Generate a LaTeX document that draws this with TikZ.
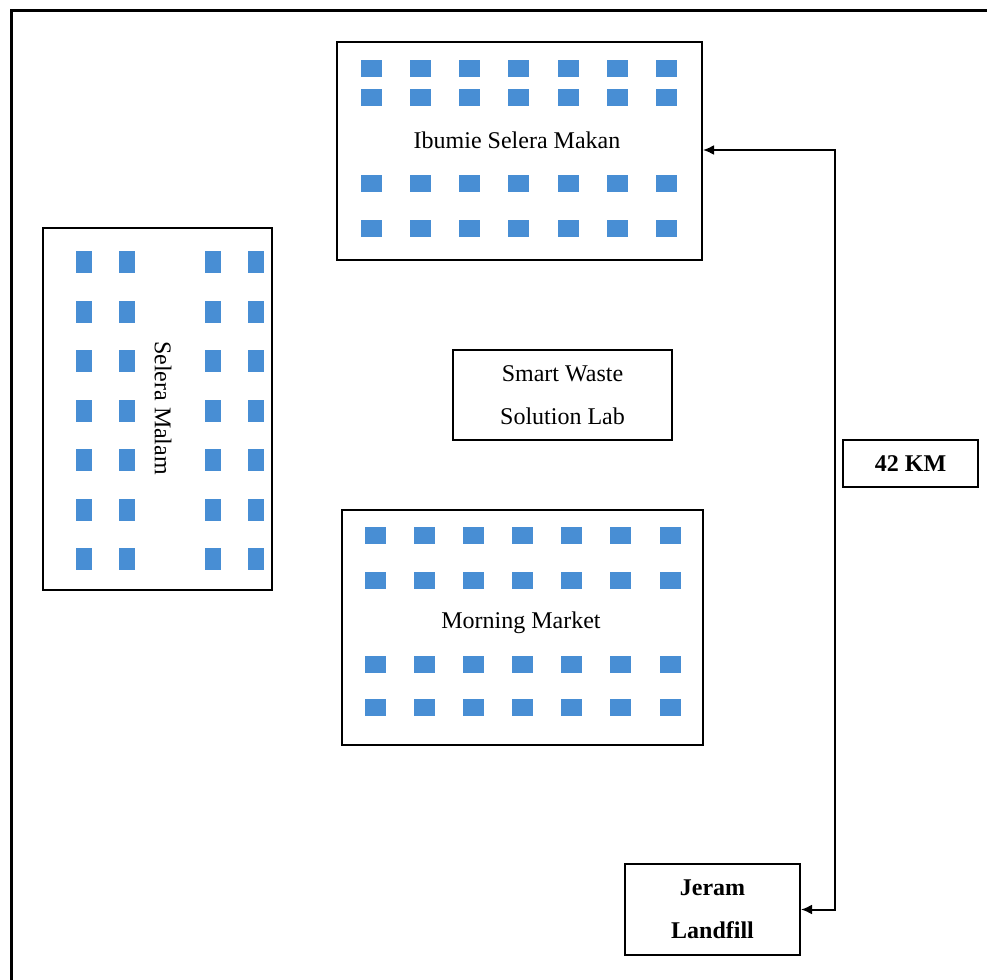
\documentclass[tikz,border=0pt]{standalone}
\usepackage{fontspec}
\setmainfont{Liberation Serif}
\usetikzlibrary{arrows.meta}
\definecolor{seat}{RGB}{72,142,212}
\tikzset{
  box/.style={draw=black, line width=1pt, fill=white, inner sep=0pt, align=center,
    font=\fontsize{12}{21.5}\selectfont},
  lbl/.style={inner sep=1pt, font=\fontsize{12}{14}\selectfont},
  boldlbl/.style={box, font=\fontsize{12}{21.5}\selectfont\bfseries},
  conn/.style={line width=1pt, {Latex[length=5.5pt,width=5pt]}-{Latex[length=5.5pt,width=5pt]}},
  frame/.style={line width=1.5pt}
}
\begin{document}
\begin{tikzpicture}[x=0.5pt,y=-0.5pt]
\useasboundingbox (0,0) rectangle (987,980);
\draw[frame] (11,980) -- (11,10) -- (987,10);

% boxes
\node[box, minimum width=182.5pt, minimum height=109pt] (ibumie) at (519.5,151) {};
\node[box, minimum width=114.5pt, minimum height=181pt] (malam) at (157.5,409) {};
\node[box, minimum width=109.5pt, minimum height=45pt] (lab) at (562.5,395) {Smart Waste\\Solution Lab};
\node[box, minimum width=180.5pt, minimum height=117.5pt] (market) at (522.5,627.5) {};
\node[boldlbl, minimum width=67.5pt, minimum height=23.5pt] (km) at (910.5,463.5) {42 KM};
\node[boldlbl, minimum width=87.5pt, minimum height=45.5pt] (jeram) at (712.5,909.5) {Jeram\\Landfill};

% seats
\foreach \i in {0,...,6} {
  \foreach \y in {68,97,183,228} {
    \fill[seat] ({371+49.33*\i-10.5},\y-8.5) rectangle ++(21,17);
  }
  \foreach \y in {535,580,664,707} {
    \fill[seat] ({375+49.17*\i-10.5},\y-8.5) rectangle ++(21,17);
  }
}
\foreach \x in {84,127,213,256} {
  \foreach \j in {0,...,6} {
    \fill[seat] (\x-8,{262+49.5*\j-11}) rectangle ++(16,22);
  }
}

% labels
\node[lbl] (ibumietext) at (517,140) {Ibumie Selera Makan};
\node[lbl, rotate=-90] (malamtext) at (163,408) {Selera Malam};
\node[lbl] (markettext) at (521,623) {Morning Market};

% connector
\coordinate (bend) at (835,150);
\draw[conn] (ibumie.east |- bend) -- (bend) |- (jeram.east);
\end{tikzpicture}
\end{document}
